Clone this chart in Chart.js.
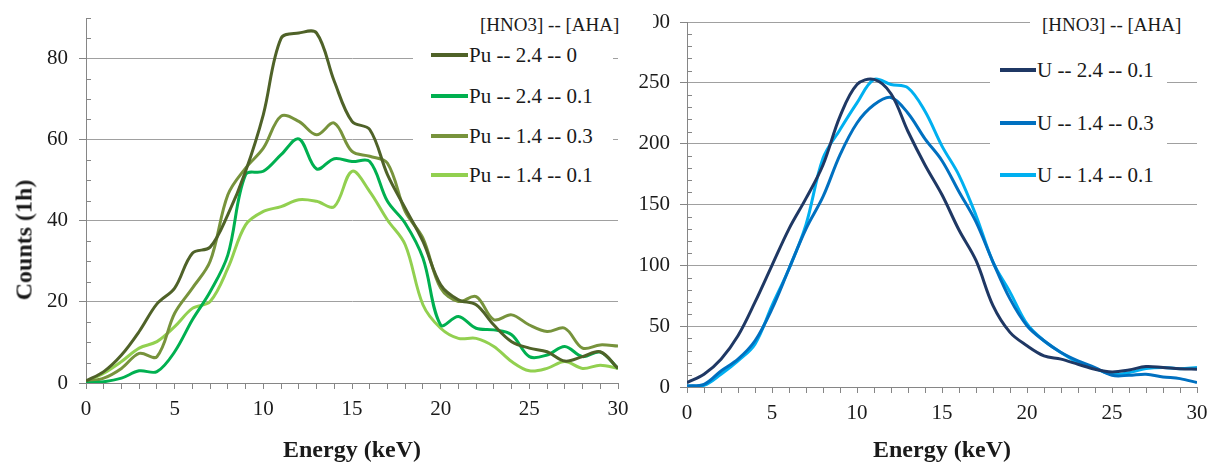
<!DOCTYPE html>
<html>
<head>
<meta charset="utf-8">
<title>Energy spectra</title>
<script src="https://cdn.jsdelivr.net/npm/chart.js@4.4.1/dist/chart.umd.min.js"></script>
<style>
    body { margin: 0; background: #fff; }
    #page { position: relative; width: 1211px; height: 463px; overflow: hidden;
            font-family: 'Liberation Serif', 'Times New Roman', serif; color: #1a1a1a; }
    canvas { position: absolute; top: 0; }
    #pu-chart { left: 0; }
    #u-chart { left: 620px; }
    .legend { position: absolute; background: #fff; z-index: 3; }
    .legend-title { position: absolute; background: #fff; z-index: 3; font-size: 19px;
                    height: 28px; line-height: 28px; white-space: nowrap; }
    .legend-row { position: absolute; height: 30px; display: flex; align-items: center;
                  font-size: 21px; white-space: nowrap; }
    .legend-row .swatch { display: inline-block; height: 3.5px; margin-right: 1px; }
    .y-title { position: absolute; font-weight: bold; font-size: 24px; white-space: nowrap;
               transform: translate(-50%, -50%) rotate(-90deg); }
</style>
</head>
<body>
<div id="page">
    <canvas id="pu-chart" width="640" height="463"></canvas>
    <canvas id="u-chart" width="591" height="463"></canvas>
    <div class="y-title" style="left: 24px; top: 240px;">Counts (1h)</div>

    <div class="legend-title" style="left: 478px; top: 11px; width: 173px; padding-left: 2px;">[HNO3] -- [AHA]</div>
    <div class="legend" id="pu-legend" style="left: 413px; top: 38px; width: 200px; height: 160px;"></div>

    <div class="legend-title" style="left: 1030px; top: 11px; width: 169px; padding-left: 12px;">[HNO3] -- [AHA]</div>
    <div class="legend" id="u-legend" style="left: 990px; top: 40px; width: 177px; height: 160px;"></div>
</div>
<script>
// energy grid, keV
const energy = [0, 1, 2, 3, 4, 5, 6, 7, 8, 9, 10, 11, 12, 13, 14, 15, 16, 17, 18, 19, 20,
    21, 22, 23, 24, 25, 26, 27, 28, 29, 30];

// plutonium runs
const puNames = ['Pu -- 2.4 -- 0', 'Pu -- 2.4 -- 0.1', 'Pu -- 1.4 -- 0.3', 'Pu -- 1.4 -- 0.1'];
const puColors = ['#4f6228', '#00b050', '#77933c', '#92d050'];
const pu24_0 = [0.5, 2.8, 6.9, 12.7, 19.5, 23.4, 32, 33.5, 41.5, 52.2, 66.2, 85, 86.3, 86.3, 74.4,
    64.5, 62.5, 51.4, 43.1, 34.9, 24.2, 20.5, 19.3, 14.3, 10.2, 8.6, 7.7, 5.4, 6.5, 7.7, 3.6];
const pu24_01 = [0, 0.3, 1.2, 3.0, 2.8, 7.7, 15.6, 22.5, 31.6, 51.4, 52.2, 56.3, 60.2, 52.8, 55.3,
    54.6, 54.6, 44.8, 39.4, 30.8, 14.3, 16.4, 13.5, 13.1, 11.9, 6.5, 6.9, 9.0, 6.5, 7.6, 3.6];
const pu14_03 = [0.3, 1.2, 3.6, 7.3, 6.5, 17.2, 23.4, 30, 46.4, 53, 57.9, 65.8, 64.5, 61.2, 64.1,
    57.1, 55.9, 54.2, 42.3, 35.7, 23.4, 20.1, 21.3, 15.6, 16.8, 14.3, 12.7, 13.5, 8.6, 9.4, 9.1];
const pu14_01 = [0.3, 2.4, 5.3, 8.6, 10.2, 13.9, 18.4, 20.1, 28.3, 39.0, 42.3, 43.5, 45.2, 44.8, 43.5,
    52.2, 47.2, 40.2, 34.1, 19.3, 13.5, 11.0, 11.0, 9.0, 5.3, 3.0, 3.6, 5.3, 3.6, 4.4, 3.6];

// uranium runs
const uNames = ['U -- 2.4 -- 0.1', 'U -- 1.4 -- 0.3', 'U -- 1.4 -- 0.1'];
const uColors = ['#1f3864', '#0070c0', '#00b0f0'];
const u24_01 = [3.6, 10.5, 22.9, 42.1, 69.7, 100, 130, 155, 182.5, 222.5, 248.6, 252.8, 241, 210, 182.5,
    158, 129, 104, 66.9, 44.9, 33.9, 25.6, 22.9, 18.7, 14.6, 12.4, 14.0, 16.8, 16.0, 15.1, 14.6];
const u14_03 = [0.8, 2.2, 13.2, 22.9, 38, 64.2, 97.2, 130, 156.4, 190.8, 217, 232, 238, 225, 204,
    186, 160.5, 135.7, 102.7, 72.4, 50.4, 38, 28.4, 21.5, 16, 9.6, 9.6, 10.5, 8.3, 6.9, 3.6];
const u14_01 = [0.8, 1.4, 10.5, 21.5, 35.2, 66.9, 97.2, 133.5, 188, 211.5, 233.5, 252.8, 248.6, 245.9, 226.6,
    198, 174, 141, 102.7, 78, 51.8, 38, 28.4, 20.1, 15.1, 10.5, 11.8, 15.1, 16, 15.1, 16];

const gridColor = '#a0a0a0';
const axisColor = '#868686';

Chart.defaults.font.family = "'Liberation Serif', 'Times New Roman', serif";
Chart.defaults.color = '#1a1a1a';

// short inward ticks between the labelled values of the y axis
const minorTicks = {
    id: 'minorTicks',
    afterDraw(chart, args, opts) {
        const y = chart.scales.y;
        const ctx = chart.ctx;
        ctx.save();
        ctx.strokeStyle = axisColor;
        ctx.lineWidth = 1;
        ctx.beginPath();
        for (let v = y.min; v <= y.max; v += opts.step) {
            if (v % opts.major === 0) continue;
            const py = Math.round(y.getPixelForValue(v)) + 0.5;
            ctx.moveTo(y.right, py);
            ctx.lineTo(y.right + 5, py);
        }
        ctx.stroke();
        ctx.restore();
    }
};

function toSeries(names, colors, lists) {
    return lists.map((values, i) => ({
        label: names[i],
        borderColor: colors[i],
        backgroundColor: colors[i],
        data: values.map((v, k) => ({x: energy[k], y: v}))
    }));
}

function makeChart(id, datasets, cfg) {
    return new Chart(document.getElementById(id), {
        type: 'line',
        data: {datasets: datasets},
        options: {
            responsive: false,
            animation: false,
            layout: {padding: cfg.padding},
            elements: {
                point: {radius: 0},
                line: {borderWidth: 3, tension: 0.35}
            },
            plugins: {
                legend: {display: false},
                tooltip: {enabled: false},
                minorTicks: {step: cfg.minor, major: cfg.step}
            },
            scales: {
                x: {
                    type: 'linear',
                    min: 0,
                    max: 30,
                    ticks: {
                        stepSize: 1,
                        autoSkip: false,
                        maxRotation: 0,
                        padding: 8,
                        font: {size: 21},
                        callback: (v) => v % 5 === 0 ? v : ''
                    },
                    grid: {drawOnChartArea: false, tickLength: 6, tickColor: axisColor},
                    border: {color: axisColor},
                    title: {
                        display: true,
                        text: 'Energy (keV)',
                        padding: 0,
                        font: {size: 24, weight: 'bold', lineHeight: 1}
                    },
                    afterFit: (s) => {
                        s.height = cfg.xHeight;
                        s.paddingLeft = 0;
                        s.paddingRight = 0;
                    }
                },
                y: {
                    min: 0,
                    max: cfg.max,
                    ticks: {stepSize: cfg.step, includeBounds: false, padding: cfg.labelPad, font: {size: 21}},
                    grid: {color: gridColor, tickColor: axisColor, tickLength: 7},
                    border: {color: axisColor},
                    afterFit: (s) => {
                        s.width = cfg.yWidth;
                        s.paddingTop = 0;
                        s.paddingBottom = 0;
                    }
                }
            }
        },
        plugins: [minorTicks]
    });
}

function fillLegend(boxId, chart, rowCenters, swatchLeft, swatchWidth) {
    const box = document.getElementById(boxId);
    const boxTop = box.offsetTop;
    chart.data.datasets.forEach((ds, i) => {
        const row = document.createElement('div');
        row.className = 'legend-row';
        row.style.top = (rowCenters[i] - boxTop - 15) + 'px';
        row.style.left = swatchLeft + 'px';
        const swatch = document.createElement('span');
        swatch.className = 'swatch';
        swatch.style.width = swatchWidth + 'px';
        swatch.style.background = ds.borderColor;
        row.appendChild(swatch);
        row.appendChild(document.createTextNode(ds.label));
        box.appendChild(row);
    });
}

const puChart = makeChart('pu-chart', toSeries(puNames, puColors, [pu24_0, pu24_01, pu14_03, pu14_01]), {
    padding: {left: 0, top: 18, right: 22, bottom: 0},
    xHeight: 80, yWidth: 86, labelPad: 11,
    max: 90, step: 20, minor: 5
});

const uChart = makeChart('u-chart', toSeries(uNames, uColors, [u24_01, u14_03, u14_01]), {
    padding: {left: 0, top: 22, right: 14, bottom: 0},
    xHeight: 76, yWidth: 67, labelPad: 10,
    max: 300, step: 50, minor: 10
});

fillLegend('pu-legend', puChart, [55, 96, 136, 175], 18, 37);
fillLegend('u-legend', uChart, [70, 123, 175], 10, 36);
</script>
</body>
</html>
